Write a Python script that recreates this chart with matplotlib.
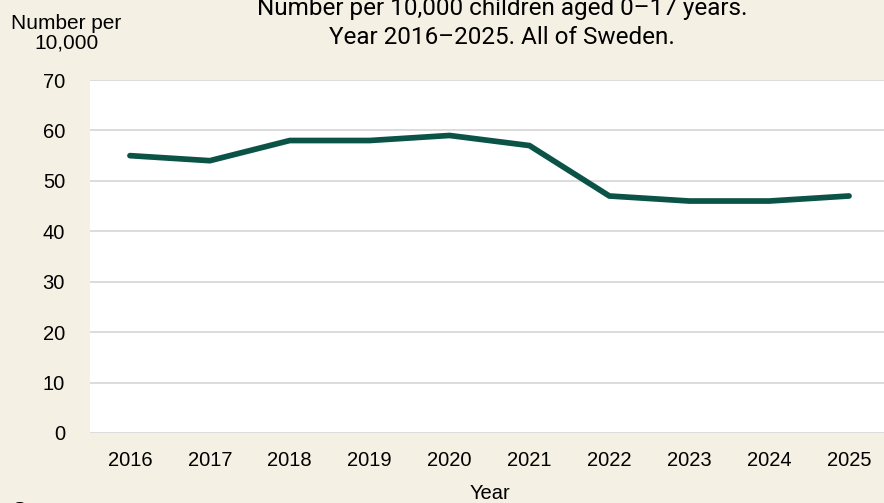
import matplotlib.pyplot as plt

years = ['2016', '2017', '2018', '2019', '2020', '2021', '2022', '2023', '2024', '2025']
rate = [55, 54, 58, 58, 59, 57, 47, 46, 46, 47]

bg = '#f4f0e3'
teal = '#0b5247'

fig = plt.figure(figsize=(8.84, 5.03), dpi=100, facecolor=bg)
ax = fig.add_axes([90 / 884, 70 / 503, 799 / 884, 353 / 503])
ax.set_facecolor('white')

x = range(len(years))
ax.plot(x, rate, color=teal, linewidth=4.1, solid_joinstyle='miter', solid_capstyle='round')

ax.set_xlim(-0.5, len(years) - 0.5)
ax.set_ylim(0, 70)
ax.set_yticks(range(0, 71, 10))
ax.set_xticks(list(x))
ax.set_xticklabels(years)
ax.grid(axis='y', color='#d9d9d9', linewidth=1.3)
ax.set_axisbelow(True)
for s in ax.spines.values():
    s.set_visible(False)
ax.tick_params(length=0, labelsize=14.5, labelfontfamily='Liberation Sans')
ax.tick_params(axis='y', pad=18)
ax.tick_params(axis='x', pad=13)

ax.set_xlabel('Year', fontsize=14.5, family='Liberation Sans', labelpad=10)

fig.text(66 / 884, 1 - 33 / 503, 'Number per\n10,000', ha='center', va='center',
         fontsize=15, family='Liberation Sans', linespacing=1.05)

# title sits partly above the top edge, as in the original export
fig.text(502 / 884, 1 - 23 / 503,
         'Number per 10,000 children aged 0\u201317 years.\nYear 2016\u20132025. All of Sweden.',
         ha='center', va='center', fontsize=17.5, family='Roboto', linespacing=1.38)

fig.text(12 / 884, 1 - 501 / 503, 'Source', ha='left', va='top', fontsize=14.5,
         family='Liberation Sans')

fig.savefig('out.png', dpi=100, facecolor=bg)
